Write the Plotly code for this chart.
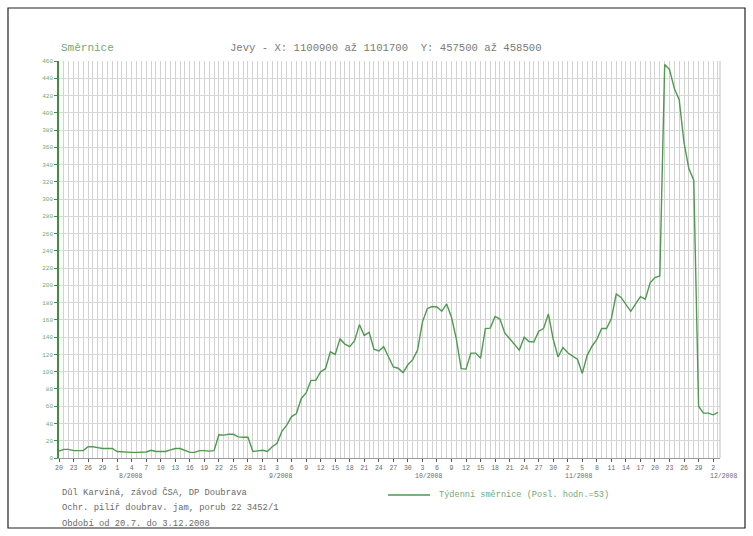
import pandas as pd
import plotly.graph_objects as go

# Daily weekly-slope values, 20.7.2008 - 3.12.2008
start_date = "2008-07-20"
slope_values = [
    8, 10, 10, 8.5, 8.5, 8.5, 13, 13, 12, 11, 11, 11,            # 20.7. - 31.7.
    7.5, 7, 6.5, 6.5, 6.5, 6.5, 7, 9, 7.5, 7.5, 7.5, 9.5,        # 1.8. - 12.8.
    11, 11, 9, 6.5, 6.5, 8.5, 8.5, 8, 8.5, 27, 26.5, 27.5,        # 13.8. - 24.8.
    27.5, 24.5, 24, 24, 7.5, 8, 9,                                # 25.8. - 31.8.
    7.5, 13, 17, 31, 38, 48, 51.5, 69, 75.5, 90, 90, 100,         # 1.9. - 12.9.
    103.5, 123, 120, 138, 132, 129, 136, 154.5, 142, 145.5, 126,  # 13.9. - 23.9.
    124, 129, 117, 105.5, 104, 99, 108,                           # 24.9. - 30.9.
    114, 125, 157.5, 173, 175.5, 175, 170, 178.5, 163, 138,       # 1.10. - 10.10.
    103.5, 103, 121.5, 121.5, 115.5, 150, 150.5, 164, 161, 145,   # 11.10. - 20.10.
    138, 131.5, 125, 140, 135, 134.5, 147, 150, 167, 137.5, 117,  # 21.10. - 31.10.
    128, 122, 118, 114.5, 98, 119, 129.5, 137.5, 150, 150,        # 1.11. - 10.11.
    161.5, 190, 186, 177.5, 170, 178.5, 187, 184, 203, 209,       # 11.11. - 20.11.
    211, 456, 450, 428, 415, 365, 335, 322, 60, 52,               # 21.11. - 30.11.
    52, 50, 53,                                                   # 1.12. - 3.12.
]
dates = pd.date_range(start_date, periods=len(slope_values), freq="D")

month_labels = ["8/2008", "9/2008", "10/2008", "11/2008", "12/2008"]
month_starts = ["2008-08-01", "2008-09-01", "2008-10-01", "2008-11-01", "2008-12-01"]

title_left = "Směrnice"
title_main = "Jevy - X: 1100900 až 1101700  Y: 457500 až 458500"
footer_lines = [
    "Důl Karviná, závod ČSA, DP Doubrava",
    "Ochr. pilíř doubrav. jam, porub 22 3452/1",
    "Období od 20.7. do 3.12.2008",
]
series_name = "Týdenní směrnice (Posl. hodn.=53)"

W, H = 753, 536
L, R, T, B = 59, 33, 61, 78
PW, PH = W - L - R, H - T - B
MONO = "Liberation Mono, Courier New, monospace"
LINE_GREEN = "#4e9a4e"
AXIS_GREEN = "#3f8f3f"
TEXT_GREEN = "#74a874"
TEXT_GRAY = "#6a6a6a"
GRID = "#d2d2d2"
DAY_MS = 86400000


def px(x):
    return (x - L) / PW


def py(y):
    return (H - B - y) / PH


fig = go.Figure()
fig.add_trace(go.Scatter(
    x=dates, y=slope_values, mode="lines", name=series_name,
    line=dict(color=LINE_GREEN, width=1.4), showlegend=False,
))

annotations = [
    dict(text=title_left, x=px(59), y=py(48), xref="paper", yref="paper",
         xanchor="left", yanchor="middle", showarrow=False,
         font=dict(family=MONO, size=11, color=TEXT_GREEN)),
    dict(text=title_main, x=px(228), y=py(48), xref="paper", yref="paper",
         xanchor="left", yanchor="middle", showarrow=False,
         font=dict(family=MONO, size=10.6, color="#7a7a7a")),
]
for lbl, d in zip(month_labels, month_starts):
    annotations.append(dict(text=lbl, x=d, y=py(476), xref="x", yref="paper",
                            xanchor="left", yanchor="middle", showarrow=False,
                            font=dict(family=MONO, size=6.5, color=TEXT_GRAY)))
for i, line in enumerate(footer_lines):
    annotations.append(dict(text=line, x=px(60), y=py(492 + 16 * i), xref="paper", yref="paper",
                            xanchor="left", yanchor="middle", showarrow=False,
                            font=dict(family=MONO, size=8.8, color=TEXT_GRAY)))
annotations.append(dict(text=series_name, x=px(437), y=py(495), xref="paper", yref="paper",
                        xanchor="left", yanchor="middle", showarrow=False,
                        font=dict(family=MONO, size=8.6, color=TEXT_GREEN)))

shapes = [
    # legend sample line
    dict(type="line", xref="paper", yref="paper", x0=px(388), x1=px(430), y0=py(495), y1=py(495),
         line=dict(color=LINE_GREEN, width=1.4)),
    # right edge of plot area
    dict(type="line", xref="paper", yref="paper", x0=1, x1=1, y0=0, y1=1,
         line=dict(color="#bdbdbd", width=1)),
    # outer frame
    dict(type="rect", xref="paper", yref="paper", x0=px(8), x1=px(745), y0=py(528), y1=py(8),
         line=dict(color="#222222", width=1.2), fillcolor="rgba(0,0,0,0)"),
]

fig.update_layout(
    width=W, height=H,
    margin=dict(l=L, r=R, t=T, b=B),
    paper_bgcolor="white", plot_bgcolor="white",
    annotations=annotations, shapes=shapes,
    font=dict(family=MONO),
)
fig.update_xaxes(
    type="date",
    range=["2008-07-20", "2008-12-03 10:00"],
    tick0="2008-07-20", dtick=3 * DAY_MS, tickformat="%-d",
    tickfont=dict(family=MONO, size=6.5, color=TEXT_GRAY),
    ticks="outside", ticklen=3, tickcolor="#555555",
    showgrid=True, gridcolor=GRID, gridwidth=1,
    minor=dict(dtick=DAY_MS, tick0="2008-07-20", showgrid=True, gridcolor=GRID, gridwidth=1),
    showline=True, linecolor="#9a9a9a", linewidth=1,
    zeroline=False,
)
fig.update_yaxes(
    range=[0, 460], dtick=20,
    tickfont=dict(family=MONO, size=6, color=TEXT_GREEN),
    ticks="outside", ticklen=3, tickcolor=AXIS_GREEN,
    showgrid=True, gridcolor="#d8d8d8", gridwidth=1,
    showline=True, linecolor=AXIS_GREEN, linewidth=1.6,
    zeroline=False,
)

fig.write_html("out.html")
